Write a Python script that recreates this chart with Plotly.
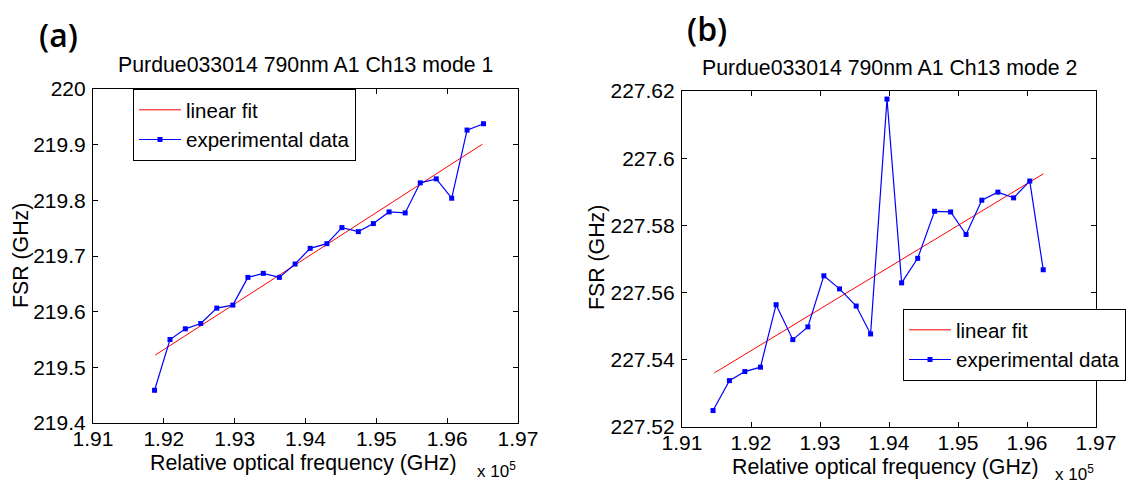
import plotly.graph_objects as go

# ---- data -------------------------------------------------------------
# Mode 1: relative optical frequency (GHz) and FSR (GHz)
freq_mode1 = [191869, 192087, 192304, 192521, 192748, 192974, 193187, 193404,
              193631, 193853, 194066, 194302, 194514, 194746, 194958, 195180,
              195407, 195620, 195846, 196064, 196281, 196513]
fsr_mode1 = [219.4588, 219.5500, 219.5692, 219.5788, 219.6064, 219.6118,
             219.6616, 219.6688, 219.6616, 219.6856, 219.7138, 219.7222,
             219.7510, 219.7438, 219.7582, 219.7792, 219.7774, 219.8314,
             219.8386, 219.8038, 219.9262, 219.9376]
fit_mode1_x = [191879, 196498]
fit_mode1_y = [219.522, 219.901]

# Mode 2
freq_mode2 = [191450, 191687, 191910, 192137, 192364, 192606, 192824, 193056,
              193283, 193525, 193733, 193971, 194183, 194416, 194660, 194893,
              195117, 195345, 195578, 195806, 196040, 196235]
fsr_mode2 = [227.5249, 227.5338, 227.5365, 227.5378, 227.5564, 227.5460,
             227.5498, 227.5650, 227.5611, 227.5560, 227.5477, 227.6176,
             227.5629, 227.5702, 227.5842, 227.5840, 227.5773, 227.5875,
             227.5899, 227.5882, 227.5932, 227.5668]
fit_mode2_x = [191469, 196240]
fit_mode2_y = [227.5361, 227.5954]

# axis ticks
x_tickvals = [191000, 192000, 193000, 194000, 195000, 196000, 197000]
x_ticktext = ["1.91", "1.92", "1.93", "1.94", "1.95", "1.96", "1.97"]
y1_tickvals = [219.4, 219.5, 219.6, 219.7, 219.8, 219.9, 220.0]
y1_ticktext = ["219.4", "219.5", "219.6", "219.7", "219.8", "219.9", "220"]
y2_tickvals = [227.52, 227.54, 227.56, 227.58, 227.60, 227.62]
y2_ticktext = ["227.52", "227.54", "227.56", "227.58", "227.6", "227.62"]

# ---- layout geometry (pixels) ------------------------------------------
W, H = 1132, 483
FONT = "Liberation Sans, Arial, sans-serif"
FS = 21.3      # titles and axis labels
FS_TICK = 21
FS_LEG = 20.5


def px_x(x):
    return x / W


def px_y(y):
    return 1 - y / H


# axes boxes: left, right, top, bottom
box_a = (93, 518, 89, 423)
box_b = (682, 1096, 91, 427)

RED = "#ff0000"
BLUE = "#0000ff"

fig = go.Figure()

fig.add_trace(go.Scatter(x=fit_mode1_x, y=fit_mode1_y, mode="lines",
                         name="linear fit", line=dict(color=RED, width=1),
                         xaxis="x", yaxis="y", legend="legend"))
fig.add_trace(go.Scatter(x=freq_mode1, y=fsr_mode1, mode="lines+markers",
                         name="experimental data",
                         line=dict(color=BLUE, width=1.2),
                         marker=dict(color=BLUE, size=5, symbol="square"),
                         xaxis="x", yaxis="y", legend="legend"))
fig.add_trace(go.Scatter(x=fit_mode2_x, y=fit_mode2_y, mode="lines",
                         name="linear fit", line=dict(color=RED, width=1),
                         xaxis="x2", yaxis="y2", legend="legend2"))
fig.add_trace(go.Scatter(x=freq_mode2, y=fsr_mode2, mode="lines+markers",
                         name="experimental data",
                         line=dict(color=BLUE, width=1.2),
                         marker=dict(color=BLUE, size=5, symbol="square"),
                         xaxis="x2", yaxis="y2", legend="legend2"))

axis_common = dict(showline=True, linecolor="black", linewidth=1.2,
                   mirror="ticks", ticks="inside", ticklen=5, tickwidth=1,
                   tickcolor="black", showgrid=False, zeroline=False,
                   automargin=False,
                   tickfont=dict(family=FONT, size=FS_TICK, color="black"))
xaxis_common = dict(axis_common, ticklabelstandoff=-3)
yaxis_common = dict(axis_common, ticklabelstandoff=2)


def xdom(box):
    return [px_x(box[0]), px_x(box[1])]


def ydom(box):
    return [px_y(box[3]), px_y(box[2])]


legend_common = dict(xanchor="left", yanchor="top", bgcolor="white",
                     bordercolor="black", borderwidth=1, itemwidth=42,
                     tracegroupgap=0,
                     font=dict(family=FONT, size=FS_LEG, color="black"))

fig.update_layout(
    width=W, height=H,
    margin=dict(l=0, r=0, t=0, b=0),
    paper_bgcolor="white", plot_bgcolor="white",
    font=dict(family=FONT, size=FS, color="black"),
    xaxis=dict(domain=xdom(box_a), range=[191000, 197000], anchor="y",
               tickvals=x_tickvals, ticktext=x_ticktext, **xaxis_common),
    yaxis=dict(domain=ydom(box_a), range=[219.4, 220.0], anchor="x",
               tickvals=y1_tickvals, ticktext=y1_ticktext, **yaxis_common),
    xaxis2=dict(domain=xdom(box_b), range=[191000, 197000], anchor="y2",
                tickvals=x_tickvals, ticktext=x_ticktext, **xaxis_common),
    yaxis2=dict(domain=ydom(box_b), range=[227.52, 227.62], anchor="x2",
                tickvals=y2_tickvals, ticktext=y2_ticktext, **yaxis_common),
    legend=dict(x=px_x(133), y=px_y(box_a[2]), **legend_common),
    legend2=dict(x=px_x(903), y=px_y(309), **legend_common),
    showlegend=True,
)

ca = (box_a[0] + box_a[1]) / 2
cb = (box_b[0] + box_b[1]) / 2
annotations = [
    # panel letters
    dict(text="(a)", x=px_x(37), y=px_y(34), xanchor="left", yanchor="middle",
         font=dict(family="Open Sans, sans-serif", size=32, color="black",
                   weight=600)),
    dict(text="(b)", x=px_x(685), y=px_y(29), xanchor="left", yanchor="middle",
         font=dict(family="Open Sans, sans-serif", size=32, color="black",
                   weight=600)),
    # titles
    dict(text="Purdue033014 790nm A1 Ch13 mode 1", x=px_x(ca), y=px_y(65),
         xanchor="center", yanchor="middle"),
    dict(text="Purdue033014 790nm A1 Ch13 mode 2", x=px_x(cb), y=px_y(68),
         xanchor="center", yanchor="middle"),
    # x-axis titles
    dict(text="Relative optical frequency (GHz)", x=px_x(ca - 2), y=px_y(463),
         xanchor="center", yanchor="middle"),
    dict(text="Relative optical frequency (GHz)", x=px_x(cb - 4), y=px_y(467),
         xanchor="center", yanchor="middle"),
    # exponent labels
    dict(text="x 10<sup>5</sup>", x=px_x(box_a[1]), y=px_y(470),
         xanchor="right", yanchor="middle",
         font=dict(family=FONT, size=17, color="black")),
    dict(text="x 10<sup>5</sup>", x=px_x(box_b[1]), y=px_y(473),
         xanchor="right", yanchor="middle",
         font=dict(family=FONT, size=17, color="black")),
    # y-axis titles
    dict(text="FSR (GHz)", x=px_x(21), y=px_y(256), textangle=-90,
         xanchor="center", yanchor="middle"),
    dict(text="FSR (GHz)", x=px_x(597), y=px_y(258), textangle=-90,
         xanchor="center", yanchor="middle"),
]
for a in annotations:
    a.setdefault("xref", "paper")
    a.setdefault("yref", "paper")
    a.setdefault("showarrow", False)
    a.setdefault("font", dict(family=FONT, size=FS, color="black"))
fig.update_layout(annotations=annotations)

fig.write_html("out.html")
